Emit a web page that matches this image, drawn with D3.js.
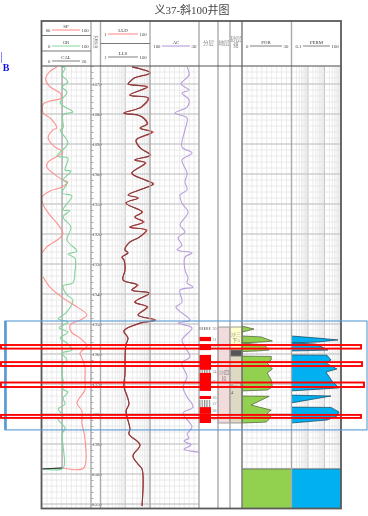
<!doctype html>
<html>
<head>
<meta charset="UTF-8">
<title>义37-斜100井图</title>
<script src="https://d3js.org/d3.v7.min.js"></script>
<style>
    html, body { margin: 0; padding: 0; background: #fff; }
    svg { display: block; filter: blur(0.35px); }
    text { font-family: "Liberation Serif", "Noto Sans CJK SC", serif; }
</style>
</head>
<body>
<svg id="chart" width="368" height="516"></svg>
<script>
// depth labels
var depthLabels = [1870, 1880, 1890, 1900, 1910, 1920, 1930, 1940, 1950, 1960, 1970, 1980, 1990, 2000, 2010];

// SP
var spDepth = [1864.3, 1866, 1868.3, 1870.7, 1872, 1873, 1874.7, 1875.7, 1876.7, 1879.7, 1881.3, 1884.7, 1885.3, 1888, 1891, 1892.7, 1896, 1897.7, 1899.7, 1902, 1902.7, 1904.3, 1905.7, 1907.7, 1910.3, 1913.7, 1916.3, 1919.7, 1921.3, 1924.3, 1926.3, 1930, 1934.3, 1937.7, 1941.3, 1944.3, 1947, 1948.7, 1950.3, 1952.7, 1954.7, 1957.3, 1959.7, 1961.3, 1964.3, 1968.7, 1972, 1976.3, 1979, 1983, 1988, 1998, 1998];
var spValue = [72, 66, 63, 66, 70.6, 74.7, 75.5, 66.5, 61, 61, 66.5, 72, 69, 65, 70.6, 77, 65, 64, 69, 77, 81, 76.3, 66.5, 60, 61, 66.5, 72, 77, 74.7, 64, 60, null, 61, 66.5, 77, 88.6, 96.7, 91, 83, 84, 91, 96.7, 91, 92.6, 95, 95, 95, 88.6, 92.6, 92.6, 95, 94, 77];

// GR
var grDepth = [1864.3, 1864.7, 1867, 1869.3, 1871, 1872.7, 1876.3, 1879.3, 1880.3, 1884.7, 1885.3, 1889.7, 1894, 1894.7, 1898.7, 1899, 1902, 1903, 1906.3, 1907.3, 1912, 1912.2, 1914.3, 1917.7, 1922, 1925.7, 1926.7, 1928, 1933, 1936.3, 1937.3, 1940.3, 1942, 1946.3, 1948.3, 1949.3, 1951.3, 1952.7, 1954.7, 1956.3, 1958.7, 1959.7, 1962, 1963.7, 1967, 1968.7, 1971.7, 1972.7, 1974.7, 1976.7, 1978.3, 1980.7, 1981.7, 1984.7, 1986.7, 1990.7, 1998, 1998.3];
var grValue = [41, 47, 41, 53, 41, 51, 37, 63, 43, 43, 37, 53, 31, 53, 47, 59, 43, 51, 41, 61, 43, 57, 43, 59, 51, 71, 53, 67, 67, 63, 43, 51, 63, 49, 33, 53, 35, 53, 37, 51, 61, 41, 51, 41, 41, 43, 43, 53, 43, 47, 33, 43, 33, 47, 41, 43, 43, 2];

// CAL
var calDepth = [1864, 1998, 1998.3];
var calValue = [8.2, 8.2, 0.2];

// LLD / LLS
var rtDepth = [1864.3, 1866.3, 1868, 1869.3, 1870, 1871, 1873.7, 1874.7, 1877.7, 1879.7, 1880.3, 1881, 1883.3, 1884.7, 1886, 1888.7, 1891.3, 1893.7, 1895.3, 1896.3, 1899.7, 1902, 1903.3, 1904.7, 1907, 1908, 1909.7, 1912.7, 1914.3, 1916, 1917.7, 1918.7, 1921.3, 1922.7, 1925.3, 1926.3, 1927.7, 1928.7, 1932, 1935.3, 1937, 1938.7, 1939.7, 1942.7, 1944.3, 1947, 1948.7, 1949.7, 1952.3, 1954.7, 1957, 1962, 1966.3, 1971, 1974, 1976.7, 1979, 1985, 1986.7, 1990.3, 1994, 1996.7, 1998.3, 2010.7];
var lldValue = [19, 105, 24, 15, 13, 82, 15, 90, 46, 8.7, 32, 50, 80, 41, 135, 28, 41, 108, 24, 68, 18, 66, 140, 60, 13, 34, 10.5, 50, 24, 58, 15, 75, 34, 15, 9.6, 13, 7.3, 9, 9.8, 8.2, 33, 18, 98, 24, 82, 33, 170, 42, 8.7, 13, 10.5, 9.8, 9.8, 9, 12, 14, 11, 15.5, 14, 39.4, 20.5, 32.7, 47.5, 47.5];
var llsValue = [18.7, 100, 22.5, 15.5, 12.9, 75.6, 15.5, 83, 43, 8.9, 29.8, 47.5, 75.6, 39.4, 120, 27, 39.4, 100, 24.8, 62.8, 18.7, 62.8, 132, 62.8, 12.9, 32.7, 10.7, 47.5, 24.8, 52, 15.5, 68.9, 32.7, 15.5, 9.8, 12.9, 7.4, 8.9, 9.8, 8.1, 29.8, 18.7, 91, 24.8, 75.6, 32.7, 159, 39.4, 8.9, 12.9, 10.7, 9.8, 9.8, 8.9, 11.8, 14.2, 10.7, 15.5, 14.2, 39.4, 20.5, 32.7, 47.5, 47.5];

// AC
var acDepth = [1864.3, 1867, 1870, 1872, 1873, 1875.3, 1877.7, 1879.7, 1881.3, 1885.3, 1891, 1893, 1895.3, 1899.7, 1902.7, 1905.3, 1907, 1909.7, 1912.7, 1917, 1919.3, 1921.3, 1923.7, 1925.3, 1926.3, 1927.7, 1932, 1934.7, 1936.3, 1937.7, 1938.7, 1942.7, 1944.3, 1945.3, 1948.7, 1949.7, 1951.3, 1955.3, 1957.7, 1961, 1963, 1967.7, 1971, 1974.3, 1977.7, 1979.7, 1984.3, 1986.7, 1988, 1989, 1990.3, 1991.7, 1992.7];
var acValue = [47.1, 44.3, 55.7, 44.3, 54.3, 44.3, 47.1, 64.3, 47.1, 50, 54.3, 40, 54.3, 47.1, 50, 47.1, 57.1, 54.3, 45.7, 57.1, 50, 60, 54.3, 61.4, 40, 50, 50, 45.7, 47.1, 38.6, 57.1, 54.3, 62.9, 60, 42.9, 60, 40, 54.3, 50, 42.9, 54.3, 47.1, 52.9, 47.1, 38.6, 52.9, 40, 47.1, 44.3, 51.4, 41.4, 51.4, 30];

// POR
var porDepth = [1950.7, 1951.7, 1952.7, 1954, 1954.3, 1955.7, 1956, 1956.3, 1957, 1958.7, 1959, 1959.2, 1960.7, 1960.8, 1962, 1963, 1965, 1966.3, 1968.7, 1971, 1972, 1972.3, 1974, 1974.1, 1977, 1977.7, 1978.7, 1979.7, 1981, 1982.7, 1983];
var porValue = [0, 7.3, 0, 0, 11.6, 18.4, 11.6, 0, 13.5, 16.5, 8.6, 0, 0, 17.7, 17.7, 15.3, 18.4, 15.3, 17.7, 18.4, 15.3, 0, 0, 16.5, 5.5, 10.4, 17.7, 15.3, 17.7, 14.7, 0];

// PERM
var permDepth = [1954, 1954.7, 1955.3, 1956, 1956.3, 1956.7, 1958.7, 1959, 1960.3, 1960.4, 1962, 1963, 1965, 1966, 1969, 1971.3, 1972.3, 1973.7, 1974, 1976.3, 1977.7, 1977.8, 1979.3, 1980.7, 1982, 1983];
var permValue = [0.1, 4, 66, 4, 0.1, 3.05, 16.4, 0.1, 0.1, 14.2, 24.8, 12.3, 57, 12.3, 28.5, 75, 0.1, 0.1, 24.8, 0.1, 0.1, 24.8, 75, 57, 14.2, 0.1];

// layers
var layerTop = [1951, 1954.3, 1956.7, 1960.3, 1965.3, 1966.3, 1974, 1975.3, 1977.7, 1979.7];
var layerBottom = [1952, 1955.7, 1958.7, 1965.3, 1966.3, 1972.3, 1975, 1977.7, 1979.7, 1983];
var layerKind = ["dry", "oil", "oil", "oil", "dry", "oil", "oil", "dry", "oil", "oil"];
var layerName = ["30", "31", "32", "33", "34", "35", "36", "37", "38", "39"];

// highlight boxes
var boxTop = [1957, 1962.7, 1969.5, 1980.3];
var boxBottom = [1958.2, 1964, 1971, 1981.3];
var boxRight = [361, 362, 364, 361];

var svg = d3.select("#chart");
var top0 = 66, bottom0 = 508;
var y = d3.scaleLinear().domain([1864, 2011.33]).range([top0, bottom0]);

// track x scales
var xSp = d3.scaleLinear().domain([60, 100]).range([42, 91]);
var xGr = d3.scaleLinear().domain([0, 100]).range([42, 91]);
var xCal = d3.scaleLinear().domain([0, 20]).range([42, 91]);
var xRt = d3.scaleLog().domain([1, 100]).range([100.5, 150]);
var xAc = d3.scaleLinear().domain([100, 30]).range([150, 199]);
var xPor = d3.scaleLinear().domain([0, 30]).range([242, 291.5]);
var xPerm = d3.scaleLog().domain([0.1, 100]).range([291.5, 341]);

// grid for one track
function grid(x, tickValues, strong) {
    var g = svg.append("g");
    var r = x.range();
    g.selectAll(".v").data(tickValues).enter().append("line")
        .attr("x1", function (d) { return x(d); })
        .attr("x2", function (d) { return x(d); })
        .attr("y1", top0).attr("y2", bottom0)
        .attr("stroke", function (d) { return strong.indexOf(d) >= 0 ? "#c4c4c4" : "#e6e6e6"; })
        .attr("stroke-width", function (d) { return strong.indexOf(d) >= 0 ? 1 : 0.8; });
    g.selectAll(".m").data(d3.range(1864, 2012, 2)).enter().append("line")
        .attr("x1", r[0]).attr("x2", r[1])
        .attr("y1", function (d) { return y(d); })
        .attr("y2", function (d) { return y(d); })
        .attr("stroke", "#e4e4e4").attr("stroke-width", 0.8);
    g.selectAll(".h").data(depthLabels).enter().append("line")
        .attr("x1", r[0]).attr("x2", r[1])
        .attr("y1", function (d) { return y(d); })
        .attr("y2", function (d) { return y(d); })
        .attr("stroke", "#bbb").attr("stroke-width", 0.9);
}
grid(xGr, d3.range(0, 101, 10), []);
grid(xRt, xRt.ticks(), [10]);
grid(xAc, d3.range(100, 29, -7), []);
grid(xPor, d3.range(0, 31, 3), []);
grid(xPerm, xPerm.ticks(), [1, 10]);

// POR / PERM
var porArea = d3.area()
    .y(function (d) { return y(d[0]); })
    .x0(xPor(0))
    .x1(function (d) { return xPor(d[1]); });
svg.append("path").datum(d3.zip(porDepth, porValue))
    .attr("d", porArea).attr("fill", "#92d050").attr("stroke", "#4f5a35").attr("stroke-width", 0.7);

var permArea = d3.area()
    .y(function (d) { return y(d[0]); })
    .x0(xPerm(0.1))
    .x1(function (d) { return xPerm(d[1]); });
svg.append("path").datum(d3.zip(permDepth, permValue))
    .attr("d", permArea).attr("fill", "#00b0f0").attr("stroke", "#17405a").attr("stroke-width", 0.7);

// colour blocks at the foot of POR and PERM
svg.append("rect").attr("x", xPor(0)).attr("width", xPor(30) - xPor(0))
    .attr("y", y(1998.3)).attr("height", y(2011.33) - y(1998.3)).attr("fill", "#92d050");
svg.append("rect").attr("x", xPerm(0.1)).attr("width", xPerm(100) - xPerm(0.1))
    .attr("y", y(1998.3)).attr("height", y(2011.33) - y(1998.3)).attr("fill", "#00b0f0");
svg.append("line").attr("x1", xPor(0)).attr("x2", xPerm(100))
    .attr("y1", y(1998.3)).attr("y2", y(1998.3)).attr("stroke", "#555").attr("stroke-width", 0.8);

// curves
function curve(depths, values, x, color, width, type) {
    var line = d3.line()
        .defined(function (d) { return d[1] !== null; })
        .y(function (d) { return y(d[0]); })
        .x(function (d) { return x(d[1]); })
        .curve(type || d3.curveCatmullRom);
    svg.append("path").datum(d3.zip(depths, values))
        .attr("d", line).attr("fill", "none")
        .attr("stroke", color).attr("stroke-width", width);
}
curve(calDepth, calValue, xCal, "#8f8f8f", 1, d3.curveLinear);
curve(spDepth, spValue, xSp, "#ff8f8f", 1.1);
curve(grDepth, grValue, xGr, "#7fd49a", 1.1);
curve(calDepth.slice(1), calValue.slice(1), xCal, "#333", 1, d3.curveLinear);
curve(rtDepth, lldValue, xRt, "#ee3333", 1.1);
curve(rtDepth, llsValue, xRt, "#7a4343", 1.1);
curve(acDepth, acValue, xAc, "#b99ddb", 1.1);

// depth ticks
svg.append("g").attr("transform", "translate(91,0)")
    .call(d3.axisRight(y).tickValues(d3.range(1864, 2012, 2)).tickSize(2.5).tickFormat(""))
    .call(function (g) {
        g.select(".domain").remove();
        g.selectAll("line").attr("stroke", "#888").attr("stroke-width", 0.7);
    });
var depthAxis = svg.append("g").attr("transform", "translate(91,0)")
    .call(d3.axisRight(y).tickValues(depthLabels).tickSize(0).tickPadding(1).tickFormat(d3.format("d")));
depthAxis.select(".domain").remove();
depthAxis.selectAll("text").attr("font-size", 4.8).attr("fill", "#444")
    .style("font-family", "'Liberation Serif'");

// layers
var pattern = svg.append("defs").append("pattern").attr("id", "stripes")
    .attr("patternUnits", "userSpaceOnUse").attr("width", 2.4).attr("height", 4);
pattern.append("rect").attr("width", 2.4).attr("height", 4).attr("fill", "#fff");
pattern.append("rect").attr("width", 1.2).attr("height", 4).attr("fill", "#888");

svg.selectAll(".layer").data(d3.range(layerTop.length)).enter().append("rect")
    .attr("x", 199).attr("width", 12)
    .attr("y", function (i) { return y(layerTop[i]); })
    .attr("height", function (i) { return y(layerBottom[i]) - y(layerTop[i]); })
    .attr("fill", function (i) { return layerKind[i] === "oil" ? "#ff0000" : "url(#stripes)"; });
svg.selectAll(".layerName").data(d3.range(layerTop.length)).enter().append("text")
    .attr("x", 212.5)
    .attr("y", function (i) { return (y(layerTop[i]) + y(layerBottom[i])) / 2 + 1.5; })
    .attr("font-size", 4).attr("fill", "#777")
    .text(function (i) { return layerName[i]; });

// formation columns
function zone(x, w, d0, d1, fill) {
    svg.append("rect").attr("x", x).attr("width", w)
        .attr("y", y(d0)).attr("height", y(d1) - y(d0))
        .attr("fill", fill).attr("stroke", "#777").attr("stroke-width", 0.7);
}
zone(218, 12, 1951, 1983, "#f2dcdb");
zone(230, 12, 1951, 1958.7, "#ffffcc");
zone(230, 12, 1958.7, 1960.7, "#555");
zone(230, 12, 1960.7, 1983, "#ddd9c3");

function note(x, yy, s, size, color, anchor) {
    return svg.append("text").attr("x", x).attr("y", yy)
        .attr("font-size", size).attr("fill", color)
        .attr("text-anchor", anchor || "middle").text(s);
}
note(224, 374, "沙四", 5, "#888");
note(224, 380, "段", 5, "#888");
note(236, 336, "沙三", 5, "#888");
note(236, 342, "下3", 5, "#888");
note(236, 387, "沙三下", 4.5, "#777");
note(232, 394, "4", 5, "#555");

// track dividers
var dividers = [91, 100.5, 150, 199, 218, 230, 242, 291.5];
svg.selectAll(".div").data(dividers).enter().append("line")
    .attr("x1", function (d) { return d; }).attr("x2", function (d) { return d; })
    .attr("y1", 21).attr("y2", bottom0)
    .attr("stroke", function (d) { return d === 242 ? "#777" : "#aaa"; })
    .attr("stroke-width", 1.4);

// header rules
var headerRules = [[42, 91, 35.5], [42, 91, 51], [100.5, 150, 43.5], [41, 341, 66]];
svg.selectAll(".rule").data(headerRules).enter().append("line")
    .attr("x1", function (d) { return d[0]; }).attr("x2", function (d) { return d[1]; })
    .attr("y1", function (d) { return d[2]; }).attr("y2", function (d) { return d[2]; })
    .attr("stroke", function (d) { return d[2] === 66 ? "#555" : "#777"; })
    .attr("stroke-width", 1.2);

// frame
svg.append("rect").attr("x", 41.5).attr("y", 21).attr("width", 299.5).attr("height", 487.5)
    .attr("fill", "none").attr("stroke", "#5a5a5a").attr("stroke-width", 1.8);

// legends in header
function legend(name, lo, hi, x0, x1, yy, color) {
    svg.append("line").attr("x1", x0).attr("x2", x1).attr("y1", yy).attr("y2", yy)
        .attr("stroke", color).attr("stroke-width", 1.1);
    note((x0 + x1) / 2, yy - 2.5, name, 4.8, "#333");
    note(x0 - 1.5, yy + 1.5, lo, 4.8, "#444", "end");
    note(x1 + 1.5, yy + 1.5, hi, 4.8, "#444", "start");
}
legend("SP", "60", "100", 52, 80, 30, "#ff8f8f");
legend("GR", "0", "100", 52, 80, 46, "#8fd9a6");
legend("CAL", "0", "20", 52, 80, 61, "#8a8a8a");
legend("LLD", "1", "100", 108, 138, 34, "#ff8f8f");
legend("LLS", "1", "100", 108, 138, 57, "#8a8a8a");
legend("AC", "100", "30", 162, 190, 46, "#b99ddb");
legend("POR", "0", "30", 250, 282, 46, "#8a8a8a");
legend("PERM", "0.1", "100", 303, 330, 46, "#8a8a8a");

note(95.7, 41, "深", 5.5, "#888");
note(95.7, 47, "度", 5.5, "#888");
note(208.5, 45, "分层", 5.5, "#888");
note(224, 45, "地层", 5.5, "#888");
note(236, 41, "砂层", 5.5, "#888");
note(236, 47, "组", 5.5, "#888");

// title
note(192, 14, "义37-斜100井图", 11, "#444");

// blue mark on the left
svg.append("line").attr("x1", 1.5).attr("x2", 1.5).attr("y1", 52).attr("y2", 63)
    .attr("stroke", "#6a6aff").attr("stroke-width", 0.8);
note(6, 71, "B", 10, "#1010ee").attr("font-weight", "bold");

// overlays
svg.append("rect").attr("x", 5).attr("width", 362)
    .attr("y", y(1949)).attr("height", y(1985.3) - y(1949))
    .attr("fill", "none").attr("stroke", "#5b9bd5").attr("stroke-width", 1.1);
svg.append("line").attr("x1", 5.5).attr("x2", 5.5)
    .attr("y1", y(1949)).attr("y2", y(1985.3))
    .attr("stroke", "#5b9bd5").attr("stroke-width", 2.6);

svg.selectAll(".box").data(boxTop).enter().append("rect")
    .attr("x", 1)
    .attr("y", function (d) { return y(d); })
    .attr("width", function (d, i) { return boxRight[i] - 1; })
    .attr("height", function (d, i) { return y(boxBottom[i]) - y(d); })
    .attr("fill", "none").attr("stroke", "#ff0000").attr("stroke-width", 1.9);
</script>
</body>
</html>
